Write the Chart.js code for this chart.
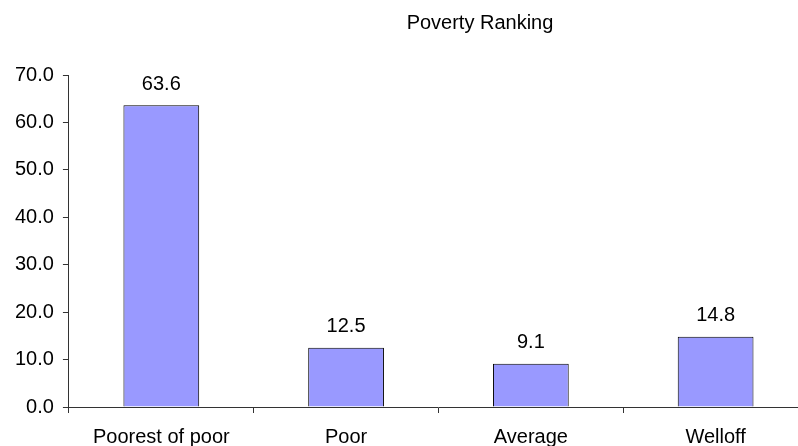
<!DOCTYPE html>
<html>
<head>
<meta charset="utf-8">
<script src="https://cdn.jsdelivr.net/npm/chart.js@4"></script>
<style>
    html, body { margin: 0; padding: 0; background: #fff; overflow: hidden; }
    #wrap { position: relative; width: 798px; height: 446px; overflow: hidden; }
    #rankTitle {
        position: absolute; left: 0; top: 11px; width: 960px;
        text-align: center; font: 20px 'Liberation Sans', Arial, sans-serif; color: #000;
    }
    #rankChart { position: absolute; left: 0; top: 0; }
</style>
</head>
<body>
<div id="wrap">
    <canvas id="rankChart" width="830" height="461"></canvas>
    <div id="rankTitle">Poverty Ranking</div>
</div>
<script>
const categories = ['Poorest of poor', 'Poor', 'Average', 'Welloff'];
const shares = [63.6, 12.5, 9.1, 14.8];
const yTicks = [0, 10, 20, 30, 40, 50, 60, 70];

const FONT = "'Liberation Sans', Arial, sans-serif";

// writes the value above each bar
const barValues = {
    id: 'barValues',
    afterDatasetsDraw(chart) {
        const c = chart.ctx;
        c.save();
        c.font = '20px ' + FONT;
        c.fillStyle = '#000';
        c.textAlign = 'center';
        c.textBaseline = 'middle';
        chart.getDatasetMeta(0).data.forEach((bar, i) => {
            c.fillText(shares[i].toFixed(1), bar.x, bar.y - 21);
        });
        c.restore();
    }
};

const ctx = document.getElementById('rankChart').getContext('2d');
const rankChart = new Chart(ctx, {
    type: 'bar',
    data: {
        labels: categories,
        datasets: [
            {
                data: shares,
                backgroundColor: '#9999ff',
                borderColor: '#000',
                borderWidth: 1,
                categoryPercentage: 1,
                barPercentage: 0.41
            }
        ]
    },
    options: {
        responsive: false,
        animation: false,
        layout: {
            padding: { top: 75, left: 6, right: 22, bottom: 0 }
        },
        plugins: {
            legend: { display: false },
            title: { display: false },
            tooltip: { enabled: false }
        },
        scales: {
            x: {
                grid: {
                    offset: true,
                    drawOnChartArea: false,
                    drawTicks: true,
                    tickLength: 6,
                    color: '#333'
                },
                border: { color: '#333', width: 1 },
                ticks: {
                    color: '#000',
                    padding: 12,
                    maxRotation: 0,
                    font: { family: FONT, size: 20 }
                }
            },
            y: {
                min: 0,
                max: 70,
                afterBuildTicks: function (axis) {
                    axis.ticks = yTicks.map(v => ({ value: v }));
                },
                grid: {
                    drawOnChartArea: false,
                    drawTicks: true,
                    tickLength: 6,
                    color: '#333'
                },
                border: { color: '#333', width: 1 },
                ticks: {
                    color: '#000',
                    padding: 9,
                    font: { family: FONT, size: 20 },
                    callback: function (value) {
                        return Number(value).toFixed(1);
                    }
                }
            }
        }
    },
    plugins: [barValues]
});
</script>
</body>
</html>
